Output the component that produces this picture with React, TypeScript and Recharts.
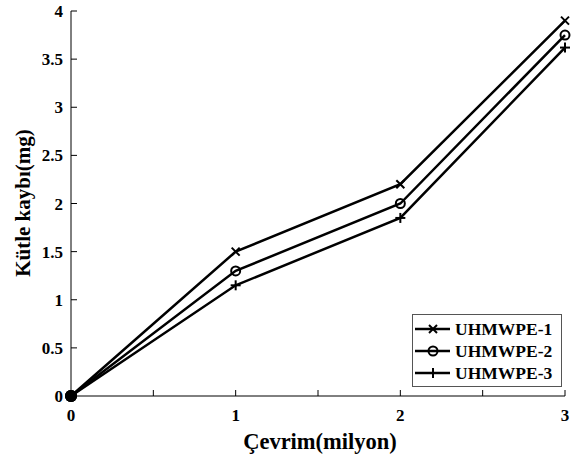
import React from 'react';
import { LineChart, Line, XAxis, YAxis } from 'recharts';

const cycles = [0, 1, 2, 3];
const uhmwpe1 = [0, 1.5, 2.2, 3.9];
const uhmwpe2 = [0, 1.3, 2.0, 3.75];
const uhmwpe3 = [0, 1.15, 1.85, 3.62];

const xTicks = [0, 0.5, 1, 1.5, 2, 2.5, 3];
const yTicks = [0, 0.5, 1, 1.5, 2, 2.5, 3, 3.5, 4];

const data = cycles.map((c, i) => ({
  cycle: c,
  s1: uhmwpe1[i],
  s2: uhmwpe2[i],
  s3: uhmwpe3[i],
}));

const FONT = "'Liberation Serif', 'Times New Roman', serif";

type Shape = 'x' | 'o' | '+';

function Marker({ cx, cy, shape }: { cx: number; cy: number; shape: Shape }) {
  if (shape === 'x') {
    return (
      <g stroke="#000" strokeWidth={2}>
        <line x1={cx - 4} y1={cy - 4} x2={cx + 4} y2={cy + 4} />
        <line x1={cx - 4} y1={cy + 4} x2={cx + 4} y2={cy - 4} />
      </g>
    );
  }
  if (shape === 'o') {
    return <circle cx={cx} cy={cy} r={4.5} fill="none" stroke="#000" strokeWidth={2} />;
  }
  return (
    <g stroke="#000" strokeWidth={2}>
      <line x1={cx - 5} y1={cy} x2={cx + 5} y2={cy} />
      <line x1={cx} y1={cy - 5} x2={cx} y2={cy + 5} />
    </g>
  );
}

const makeDot = (shape: Shape) => (props: any) => {
  const { cx, cy, index } = props;
  if (index === 0) {
    return <circle key={`d${shape}${index}`} cx={cx} cy={cy} r={6} fill="#000" />;
  }
  return (
    <g key={`d${shape}${index}`}>
      <Marker cx={cx} cy={cy} shape={shape} />
    </g>
  );
};

function XTick({ x, y, payload }: any) {
  const v = payload.value;
  return (
    <g>
      <line x1={x} y1={y} x2={x} y2={y - 6} stroke="#000" strokeWidth={1} />
      {Number.isInteger(v) && (
        <text x={x} y={y + 25} textAnchor="middle" style={{ fontFamily: FONT, fontWeight: 'bold', fontSize: 17 }} fill="#000">
          {v}
        </text>
      )}
    </g>
  );
}

function YTick({ x, y, payload }: any) {
  return (
    <g>
      <line x1={x} y1={y} x2={x + 6} y2={y} stroke="#000" strokeWidth={1} />
      <text x={x - 8} y={y + 6} textAnchor="end" style={{ fontFamily: FONT, fontWeight: 'bold', fontSize: 17 }} fill="#000">
        {payload.value}
      </text>
    </g>
  );
}

function XTitle() {
  return (
    <text x={320} y={449} textAnchor="middle" style={{ fontFamily: FONT, fontWeight: 'bold', fontSize: 22.5 }} fill="#000">
      Çevrim(milyon)
    </text>
  );
}

function YTitle() {
  return (
    <text
      x={30}
      y={203}
      transform="rotate(-90, 30, 203)"
      textAnchor="middle"
      style={{ fontFamily: FONT, fontWeight: 'bold', fontSize: 21 }}
      fill="#000"
    >
      Kütle kaybı(mg)
    </text>
  );
}

const legendItems: { name: string; shape: Shape }[] = [
  { name: 'UHMWPE-1', shape: 'x' },
  { name: 'UHMWPE-2', shape: 'o' },
  { name: 'UHMWPE-3', shape: '+' },
];

function LegendBox() {
  return (
    <svg width={150} height={73} style={{ display: 'block' }}>
      <rect x={0.5} y={0.5} width={149} height={72} fill="#fff" stroke="#555" strokeWidth={1} />
      {legendItems.map((it, i) => {
        const cy = 15 + i * 22;
        return (
          <g key={it.name}>
            <line x1={3} y1={cy} x2={38} y2={cy} stroke="#000" strokeWidth={2.5} />
            <Marker cx={21} cy={cy} shape={it.shape} />
            <text x={43} y={cy + 6} style={{ fontFamily: FONT, fontWeight: 'bold', fontSize: 17.5 }} fill="#000">
              {it.name}
            </text>
          </g>
        );
      })}
    </svg>
  );
}

export default function App() {
  return (
    <div style={{ position: 'absolute', left: 0, top: 0, width: 576, height: 456, background: '#fff', fontFamily: FONT }}>
      <LineChart width={576} height={456} data={data} margin={{ top: 11, right: 11, left: 0, bottom: 0 }}>
        <XAxis
          dataKey="cycle"
          type="number"
          domain={[0, 3]}
          ticks={xTicks}
          height={60}
          tickSize={0}
          tickMargin={0}
          tickLine={false}
          tick={<XTick />}
          stroke="#000"
          label={{ content: () => <XTitle /> }}
        />
        <YAxis
          type="number"
          domain={[0, 4]}
          ticks={yTicks}
          width={71}
          tickSize={0}
          tickMargin={0}
          tickLine={false}
          tick={<YTick />}
          stroke="#000"
          label={{ content: () => <YTitle /> }}
        />
        <Line dataKey="s1" name="UHMWPE-1" stroke="#000" strokeWidth={2.5} dot={makeDot('x')} isAnimationActive={false} />
        <Line dataKey="s2" name="UHMWPE-2" stroke="#000" strokeWidth={2.5} dot={makeDot('o')} isAnimationActive={false} />
        <Line dataKey="s3" name="UHMWPE-3" stroke="#000" strokeWidth={2.5} dot={makeDot('+')} isAnimationActive={false} />
      </LineChart>
      <div style={{ position: 'absolute', left: 412, top: 314 }}>
        <LegendBox />
      </div>
    </div>
  );
}
